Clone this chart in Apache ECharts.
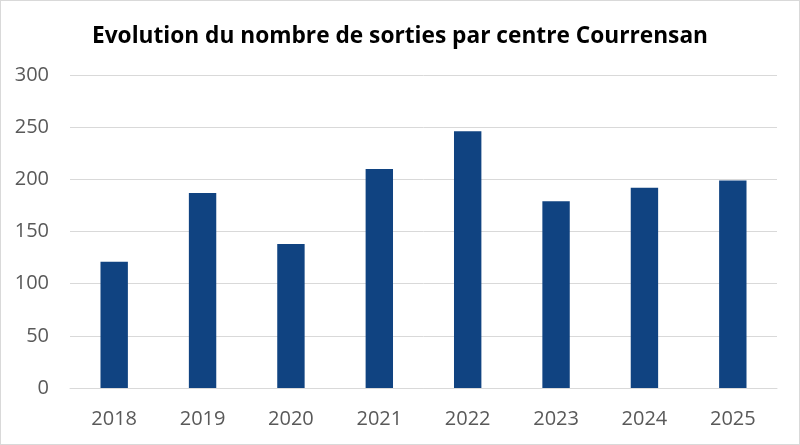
<!DOCTYPE html>
<html>
<head>
<meta charset="utf-8">
<script src="https://cdn.jsdelivr.net/npm/echarts@6/dist/echarts.min.js"></script>
<style>
html,body{margin:0;padding:0;background:#fff;}
#c{width:798px;height:443px;border:1px solid #d9d9d9;}
</style>
</head>
<body>
<div id="c"></div>
<script>
const titleText = "Evolution du nombre de sorties par centre Courrensan";
const categories = ["2018","2019","2020","2021","2022","2023","2024","2025"];
const values = [121, 187, 138, 210, 246, 179, 192, 199];
const yTicks = { min: 0, max: 300, interval: 50 };

const chart = echarts.init(document.getElementById('c'));
chart.setOption({
  animation: false,
  backgroundColor: '#ffffff',
  title: {
    text: titleText,
    left: 'center',
    top: 19,
    textStyle: { fontFamily: 'Open Sans', fontWeight: 'bold', fontSize: 22.7, color: '#000000' }
  },
  grid: { left: 69, right: 22, top: 74, bottom: 56, containLabel: false },
  xAxis: {
    type: 'category',
    data: categories,
    axisLine: { show: true, lineStyle: { color: '#d9d9d9', width: 1 } },
    axisTick: { show: false },
    axisLabel: { color: '#595959', fontFamily: 'Open Sans', fontSize: 20, margin: 21 }
  },
  yAxis: {
    type: 'value',
    min: yTicks.min, max: yTicks.max, interval: yTicks.interval,
    axisLine: { show: false },
    axisTick: { show: false },
    splitLine: { lineStyle: { color: '#d9d9d9', width: 1 } },
    axisLabel: { color: '#595959', fontFamily: 'Open Sans', fontSize: 20, margin: 21 }
  },
  series: [{
    type: 'bar',
    data: values,
    barWidth: '31%',
    itemStyle: { color: '#104381' }
  }]
});
</script>
</body>
</html>
